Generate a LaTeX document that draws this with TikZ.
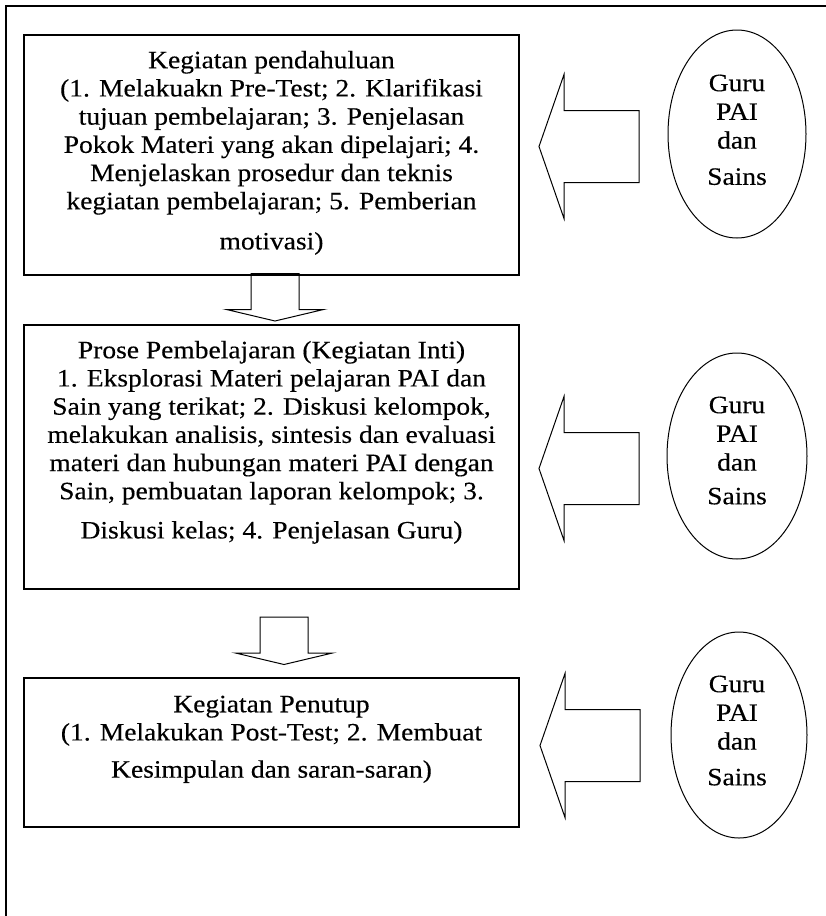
\documentclass[tikz,border=0pt]{standalone}
\usepackage{fontspec}
\setmainfont[FakeStretch=1.1, FakeBold=0.3]{Liberation Serif}
\usetikzlibrary{shapes.geometric}

\tikzset{
  stagebox/.style={draw=black, line width=1.4pt, rectangle, inner sep=0pt,
    minimum width=495pt},
  stagetext/.style={anchor=north, inner sep=0pt, align=center,
    font=\fontsize{25}{28.2}\selectfont},
  actor/.style={draw=black, line width=1pt, ellipse, inner sep=0pt},
  actortext/.style={anchor=north, inner sep=0pt, align=center,
    font=\fontsize{25}{28.7}\selectfont},
  blockarrow/.style={draw=black, line width=1pt, line join=miter},
  % hollow arrow pointing left, origin at its tip
  leftblock/.pic={
    \draw[blockarrow] (0,0) -- (25,-72) -- (25,-36) -- (100,-36)
      -- (100,36) -- (25,36) -- (25,72) -- cycle;
  },
  % hollow arrow pointing down, origin at the middle of its top edge
  downblock/.pic={
    \draw[blockarrow] (-24,0) -- (-24,36) -- (-48.5,36) -- (0,47.5)
      -- (48.5,36) -- (24,36) -- (24,0) -- cycle;
  }
}

\begin{document}
\begin{tikzpicture}[x=1pt, y=-1pt]
\useasboundingbox (0,0) rectangle (826,916);

% open outer frame (left and top sides)
\draw[line width=2pt] (6,916) -- (6,5.5) -- (826,5.5);

% stage boxes
\node[stagebox, minimum height=240pt] (intro) at (271.5,155) {};
\node[stagebox, minimum height=264pt] (core)  at (271.5,457) {};
\node[stagebox, minimum height=149pt] (close) at (271.5,752.5) {};

\node[stagetext] (introText) at (271.5,48.3) {\strut Kegiatan pendahuluan\\
(1. Melakuakn Pre-Test; 2. Klarifikasi\\
tujuan pembelajaran; 3. Penjelasan\\
Pokok Materi yang akan dipelajari; 4.\\
Menjelaskan prosedur dan teknis\\
kegiatan pembelajaran; 5. Pemberian\\[12pt]
motivasi)};

\node[stagetext] (coreText) at (271.5,338.3) {\strut Prose Pembelajaran (Kegiatan Inti)\\
1. Eksplorasi Materi pelajaran PAI dan\\
Sain yang terikat; 2. Diskusi kelompok,\\
melakukan analisis, sintesis dan evaluasi\\
materi dan hubungan materi PAI dengan\\
Sain, pembuatan laporan kelompok; 3.\\[11pt]
Diskusi kelas; 4. Penjelasan Guru)};

\node[stagetext] (closeText) at (271.5,692.3) {\strut Kegiatan Penutup\\
(1. Melakukan Post-Test; 2. Membuat\\[9pt]
Kesimpulan dan saran-saran)};

% teachers
\node[actor, minimum width=138pt, minimum height=208pt] (teach1) at (737,134) {};
\node[actor, minimum width=140pt, minimum height=206pt] (teach2) at (737,456) {};
\node[actor, minimum width=136pt, minimum height=206pt] (teach3) at (739,735) {};

\node[actortext] (teach1Text) at (737,70.9)  {\strut Guru\\ PAI\\ dan\\[7.5pt] Sains};
\node[actortext] (teach2Text) at (737,392.9) {\strut Guru\\ PAI\\ dan\\[5pt] Sains};
\node[actortext] (teach3Text) at (737,671.9) {\strut Guru\\ PAI\\ dan\\[7pt] Sains};

% flow between stages
\pic at (275,273.5) {downblock};
\pic at (284,617) {downblock};

% teachers acting on each stage
\pic at (539,146.5) {leftblock};
\pic at (539,468.5) {leftblock};
\pic at (540,745.5) {leftblock};
\end{tikzpicture}
\end{document}
